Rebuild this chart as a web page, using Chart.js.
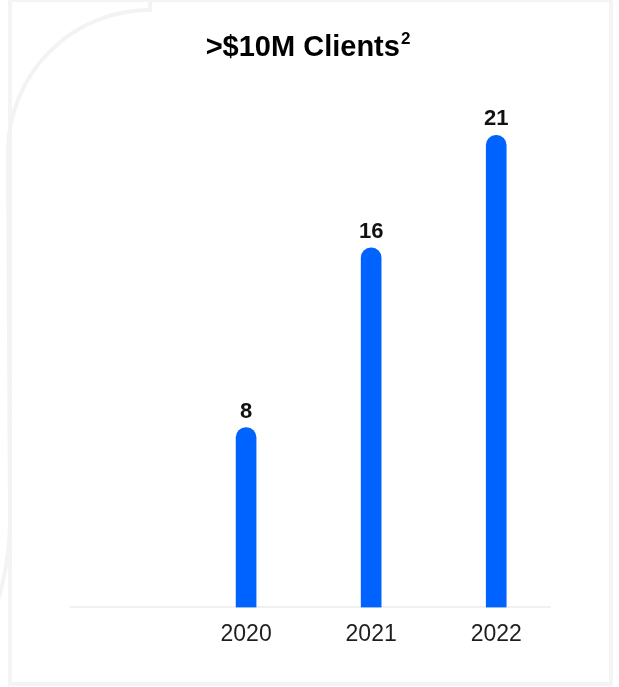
<!DOCTYPE html>
<html>
<head>
<meta charset="utf-8">
<title>>$10M Clients</title>
<script src="https://cdn.jsdelivr.net/npm/chart.js@4/dist/chart.umd.min.js"></script>
<style>
  html, body { margin: 0; padding: 0; background: #ffffff; }
  body { width: 619px; height: 687px; position: relative; overflow: hidden; }
  .card {
    position: absolute; left: 8px; top: -2px; width: 605px; height: 688px;
    box-sizing: border-box; border: 4px solid #f4f4f4; pointer-events: none;
  }
  .wrap { position: absolute; left: 0; top: 0; width: 619px; height: 687px; }
</style>
</head>
<body>
<div class="card"></div>
<div class="wrap"><canvas id="chart"></canvas></div>
<script>
// Clients with more than $10M, by year
const years = [2020, 2021, 2022];
const clients = [8, 16, 21];
const titleText = '>$10M Clients';
const titleSup = '2';

const FONT = '"Liberation Sans", Arial, Helvetica, sans-serif';
const BLUE = '#0062ff';

// Faint decorative curve behind the card
const backdrop = {
  id: 'backdrop',
  beforeDraw(chart) {
    const ctx = chart.ctx;
    ctx.save();
    ctx.strokeStyle = '#f3f3f3';
    ctx.lineWidth = 4;
    ctx.beginPath();
    ctx.moveTo(150, 2);
    ctx.arc(150, 152, 142, -Math.PI / 2, Math.PI, true);
    ctx.lineTo(10, 520);
    ctx.quadraticCurveTo(10, 560, -2, 600);
    ctx.stroke();
    ctx.restore();
  }
};

// Title with a superscript footnote marker
const heading = {
  id: 'heading',
  afterDraw(chart) {
    const ctx = chart.ctx;
    ctx.save();
    ctx.fillStyle = '#000000';
    ctx.textBaseline = 'alphabetic';
    ctx.font = 'bold 29px ' + FONT;
    const w = ctx.measureText(titleText).width;
    ctx.font = 'bold 17px ' + FONT;
    const ws = ctx.measureText(titleSup).width;
    const x0 = 308 - (w + ws + 1) / 2;
    ctx.font = 'bold 29px ' + FONT;
    ctx.textAlign = 'left';
    ctx.fillText(titleText, x0, 56);
    ctx.font = 'bold 17px ' + FONT;
    ctx.fillText(titleSup, x0 + w + 1, 44);
    ctx.restore();
  }
};

// Value labels above each bar
const valueLabels = {
  id: 'valueLabels',
  afterDatasetsDraw(chart) {
    const ctx = chart.ctx;
    const meta = chart.getDatasetMeta(0);
    ctx.save();
    ctx.fillStyle = '#111111';
    ctx.font = 'bold 22px ' + FONT;
    ctx.textAlign = 'center';
    ctx.textBaseline = 'alphabetic';
    meta.data.forEach((bar, i) => {
      ctx.fillText(String(chart.data.datasets[0].data[i].y), bar.x, bar.y - 10);
    });
    ctx.restore();
  }
};

new Chart(document.getElementById('chart'), {
  type: 'bar',
  data: {
    datasets: [{
      data: years.map((yr, i) => ({ x: yr, y: clients[i] })),
      backgroundColor: BLUE,
      borderWidth: 0,
      barThickness: 20,
      borderRadius: { topLeft: 10, topRight: 10, bottomLeft: 0, bottomRight: 0 },
      borderSkipped: false
    }]
  },
  options: {
    responsive: true,
    maintainAspectRatio: false,
    animation: false,
    layout: { padding: { top: 68, left: 71, right: 69, bottom: 26 } },
    plugins: { legend: { display: false }, title: { display: false }, tooltip: { enabled: false } },
    scales: {
      x: {
        type: 'linear',
        offset: false,
        min: 2018.6,
        max: 2022.43,
        afterBuildTicks(scale) { scale.ticks = years.map(v => ({ value: v })); },
        grid: { display: false, drawTicks: false, offset: false },
        border: { display: true, color: '#f1f1f1', width: 2 },
        ticks: {
          autoSkip: false,
          maxRotation: 0,
          padding: 13,
          color: '#1e1e1e',
          font: { family: FONT, size: 23, weight: 'normal' },
          callback: v => String(v)
        }
      },
      y: { display: false, min: 0, max: 24 }
    }
  },
  plugins: [backdrop, heading, valueLabels]
});
</script>
</body>
</html>
